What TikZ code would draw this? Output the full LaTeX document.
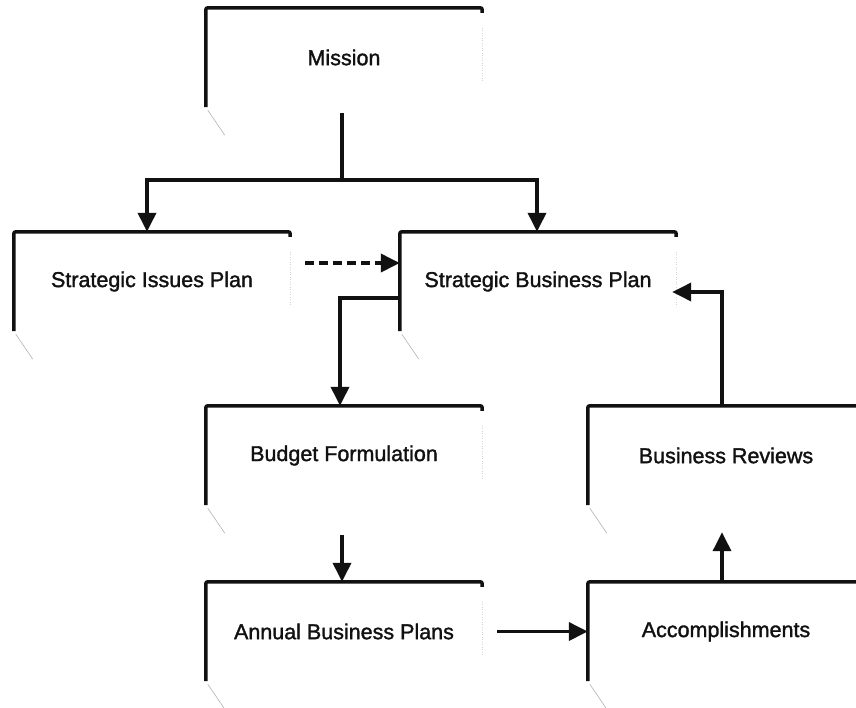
\documentclass[tikz,border=0pt]{standalone}
\usepackage{fontspec}
\setmainfont{Liberation Sans}
\newfontfamily\scanfont[FakeBold=1.5]{Liberation Sans}
\usepackage{tikz}
\usetikzlibrary{calc,arrows.meta}
\definecolor{ink}{HTML}{111111}
\definecolor{faint}{HTML}{A8A8A8}
\tikzset{
  stage/.style={minimum width=276pt, minimum height=99pt, inner sep=0pt,
    font=\scanfont\fontsize{21.5}{26}\selectfont, text=ink},
  edge/.style={draw=ink, line width=3.5pt},
  flow/.style={draw=ink, line width=3.5pt, -{Triangle[length=19pt,width=18pt]}},
  tick/.style={draw=faint, line width=0.5pt},
}
% open frame of a stage: heavy left and top, faint tail
\newcommand{\stageframe}[1]{%
  \draw[edge, rounded corners=2pt] (#1.south west) -- (#1.north west) -- (#1.north east) -- ++(0,5);
  \draw[tick] ($(#1.south west)+(2,3)$) -- ++(17,25);
  \draw[tick, dotted, draw=faint!50] ($(#1.north east)+(0,20)$) -- ++(0,55);
}

\begin{document}
\begin{tikzpicture}[x=1pt, y=-1pt]
\useasboundingbox (0,0) rectangle (856,707);

\node[stage] (mission) at (344,57.5) {Mission};
\node[stage] (sip) at (152,281.5) {Strategic Issues Plan};
\node[stage] (sbp) at (538,281.5) {Strategic Business Plan};
\node[stage] (budget) at (344,455.5) {Budget Formulation};
\node[stage] (review) at (726,455.5) {Business Reviews};
\node[stage] (annual) at (344,631.5) {Annual Business Plans};
\node[stage] (done) at (726,631.5) {Accomplishments};

\foreach \s in {mission,sip,sbp,budget,review,annual,done}
  {\stageframe{\s}}

\coordinate (split) at (342,180);
\draw[edge, shorten <=6pt] ([xshift=-2pt]mission.south) -- (split);
\draw[flow] (split) -| ([xshift=-5pt]sip.north);
\draw[flow] (split) -| ([xshift=-1pt]sbp.north);

\draw[flow, dashed, dash pattern=on 9pt off 5pt] ([shift={(15,-18.5)}]sip.east) -- ([yshift=18.5pt]sbp.west);
\draw[flow] ([yshift=-16.5pt]sbp.west) -| ([xshift=-4pt]budget.north);
\draw[flow, shorten <=30pt] ([xshift=-2pt]budget.south) -- ([xshift=-2pt]annual.north);
\draw[flow, shorten <=15pt] (annual.east) -- (done.west);
\draw[flow, shorten >=27pt] ([xshift=-4pt]done.north) -- ([xshift=-4pt]review.south);
\draw[flow] ([xshift=-4pt]review.north) |- ([shift={(-4,10.5)}]sbp.east);
\end{tikzpicture}
\end{document}
